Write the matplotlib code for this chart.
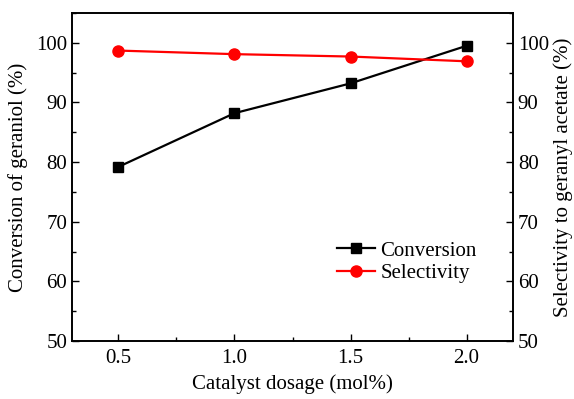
import matplotlib.pyplot as plt
from matplotlib.ticker import MultipleLocator

plt.rcParams['font.family'] = ['Liberation Serif', 'DejaVu Serif']
plt.rcParams['font.size'] = 15

dosage = [0.5, 1.0, 1.5, 2.0]
conversion = [79.2, 88.2, 93.2, 99.5]
selectivity = [98.7, 98.1, 97.7, 96.9]

fig = plt.figure(figsize=(5.74, 3.99), dpi=100)
ax = fig.add_axes([72 / 574, 1 - 341 / 399, 441 / 574, 328 / 399])
ax2 = ax.twinx()

l1, = ax.plot(dosage, conversion, color='black', marker='s', markersize=7,
              linewidth=1.6, label='Conversion')
l2, = ax2.plot(dosage, selectivity, color='red', marker='o', markersize=8,
               linewidth=1.6, label='Selectivity')

ax.set_xlim(0.3, 2.2)
ax.set_ylim(50, 105)
ax2.set_ylim(50, 105)

ax.xaxis.set_major_locator(MultipleLocator(0.5))
ax.xaxis.set_minor_locator(MultipleLocator(0.25))
for a in (ax, ax2):
    a.yaxis.set_major_locator(MultipleLocator(10))
    a.yaxis.set_minor_locator(MultipleLocator(5))
    a.tick_params(which='both', direction='in', width=1.0)
    a.tick_params(which='major', length=5)
    a.tick_params(which='minor', length=3)
    for s in a.spines.values():
        s.set_linewidth(1.2)
ax.tick_params(axis='x', pad=6)

ax.set_xlabel('Catalyst dosage (mol%)', labelpad=4)
ax.set_ylabel('Conversion of geraniol (%)', labelpad=6)
ax2.set_ylabel('Selectivity to geranyl acetate (%)', labelpad=3)

ax.legend(handles=[l1, l2], loc='upper left', bbox_to_anchor=(0.583, 0.33),
          frameon=False, handlelength=1.8, handletextpad=0.25,
          labelspacing=0.15, borderaxespad=0)

fig.savefig('out.png', dpi=100)
